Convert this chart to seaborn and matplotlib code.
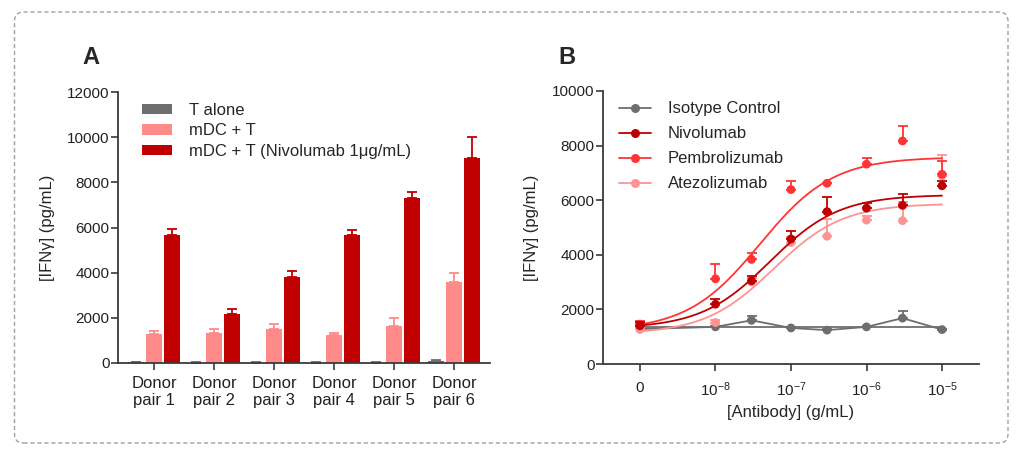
import numpy as np
import pandas as pd
import matplotlib
matplotlib.use("Agg")
import matplotlib.pyplot as plt
from matplotlib.patches import FancyBboxPatch, Patch
from matplotlib.lines import Line2D
import seaborn as sns

# ---------------- Data ----------------
donors = ["Donor\npair 1", "Donor\npair 2", "Donor\npair 3", "Donor\npair 4", "Donor\npair 5", "Donor\npair 6"]
conditions = ["T alone", "mDC + T", "mDC + T (Nivolumab 1μg/mL)"]
t_alone_mean = [40, 20, 20, 20, 20, 100]
t_alone_err = [10, 5, 5, 5, 5, 30]
mdc_mean = [1280, 1320, 1490, 1220, 1640, 3600]
mdc_err = [150, 180, 250, 100, 370, 370]
nivo_bar_mean = [5690, 2170, 3800, 5690, 7290, 9060]
nivo_bar_err = [235, 230, 280, 220, 265, 960]

conc = [0, 1e-8, 3e-8, 1e-7, 3e-7, 1e-6, 3e-6, 1e-5]
series_b = ["Isotype Control", "Nivolumab", "Pembrolizumab", "Atezolizumab"]
iso_mean = [1280, 1360, 1600, 1320, 1240, 1360, 1680, 1260]
iso_err = [60, 40, 160, 40, 30, 40, 270, 30]
nivo_mean = [1400, 2190, 3050, 4580, 5580, 5710, 5810, 6530]
nivo_err = [150, 200, 190, 310, 530, 200, 400, 160]
pembro_mean = [1460, 3120, 3830, 6390, 6620, 7320, 8170, 6950]
pembro_err = [120, 550, 240, 330, 0, 240, 560, 500]
atezo_mean = [1280, 1520, 3000, 4450, 4680, 5270, 5250, 6900]
atezo_err = [60, 80, 150, 200, 630, 150, 700, 740]

# fitted 4-parameter logistic parameters: bottom, top, logEC50, hill
fit_iso = (1360, 1360, -7.0, 1.0)
fit_nivo = (1300, 6200, -7.28, 0.95)
fit_pembro = (1220, 7580, -7.41, 0.9)
fit_atezo = (1100, 5880, -7.23, 0.95)

# ---------------- Style ----------------
sns.set_style("ticks")
plt.rcParams["font.family"] = ["Liberation Sans", "DejaVu Sans"]
plt.rcParams["mathtext.default"] = "regular"
plt.rcParams["axes.edgecolor"] = "#3a3a3a"
plt.rcParams["xtick.color"] = "#3a3a3a"
plt.rcParams["ytick.color"] = "#3a3a3a"
plt.rcParams["xtick.labelcolor"] = "#222222"
plt.rcParams["ytick.labelcolor"] = "#222222"

W, H = 1024, 457
fig = plt.figure(figsize=(W / 100, H / 100), dpi=100)

c_gray = "#6e6e6e"
c_pink = "#ff8a8a"
c_dark = "#c00000"
c_pembro = "#ff3535"
c_atezo = "#ff9393"

# ---------------- Panel A ----------------
axA = fig.add_axes([118 / W, 1 - 363 / H, 372 / W, 271 / H])
dfA = pd.DataFrame({
    "donor": donors * 3,
    "condition": [conditions[0]] * 6 + [conditions[1]] * 6 + [conditions[2]] * 6,
    "value": t_alone_mean + mdc_mean + nivo_bar_mean,
})
sns.barplot(data=dfA, x="donor", y="value", hue="condition", order=donors,
            hue_order=conditions, palette=[c_gray, c_pink, c_dark],
            width=0.9, gap=0.1, errorbar=None, saturation=1, ax=axA,
            linewidth=0)
errsA = [t_alone_err, mdc_err, nivo_bar_err]
colsA = [c_gray, c_pink, c_dark]
for cont, err, col in zip(axA.containers, errsA, colsA):
    xs = [b.get_x() + b.get_width() / 2 for b in cont]
    hs = [b.get_height() for b in cont]
    axA.errorbar(xs, hs, yerr=[np.zeros(len(err)), err], fmt="none",
                 ecolor=col, elinewidth=1.3, capsize=3.5, capthick=1.3, zorder=1)
axA.set_xlim(-0.6, 5.6)
axA.set_ylim(0, 12000)
axA.set_yticks(np.arange(0, 12001, 2000))
axA.set_xlabel("")
axA.set_ylabel("[IFNγ] (pg/mL)", fontsize=12)
axA.yaxis.set_label_coords(-0.169, 0.5)
axA.tick_params(axis="y", labelsize=11, length=5, width=1.2, pad=1)
axA.tick_params(axis="x", labelsize=12, length=5, width=1.2, pad=4)
for lab in axA.get_xticklabels():
    lab.set_linespacing(1.2)
for s in ["left", "bottom"]:
    axA.spines[s].set_linewidth(1.3)
sns.despine(ax=axA)
handlesA = [Patch(facecolor=c, edgecolor="none") for c in colsA]
axA.legend(handlesA, conditions, loc="upper left", bbox_to_anchor=(0.065, 0.96),
           frameon=False, fontsize=12, handlelength=1.8, handleheight=0.6,
           handletextpad=1.0, labelspacing=0.33, borderpad=0, borderaxespad=0)

# ---------------- Panel B ----------------
axB = fig.add_axes([603 / W, 1 - 364 / H, 376 / W, 273 / H])
xplot = [c if c > 0 else 1e-9 for c in conc]
axB.set_xscale("log")

def logistic(p, x):
    b, t, le, h = p
    return b + (t - b) / (1 + 10 ** (h * (le - np.log10(x))))

xfit = np.logspace(-9, -5, 200)
fits = [fit_iso, fit_nivo, fit_pembro, fit_atezo]
means = [iso_mean, nivo_mean, pembro_mean, atezo_mean]
errs = [iso_err, nivo_err, pembro_err, atezo_err]
colsB = [c_gray, c_dark, c_pembro, c_atezo]
draw_order = [0, 3, 2, 1]
for k, i in enumerate(draw_order):
    col = colsB[i]
    z = 2 + 2 * k
    dfit = pd.DataFrame({"x": xfit, "y": logistic(fits[i], xfit)})
    sns.lineplot(data=dfit, x="x", y="y", color=col, lw=1.3, ax=axB, zorder=z)
    axB.errorbar(xplot, means[i], yerr=[np.zeros(len(errs[i])), errs[i]], fmt="none",
                 ecolor=col, elinewidth=1.3, capsize=3.5, capthick=1.3, zorder=z)
    dpts = pd.DataFrame({"x": xplot, "y": means[i]})
    if i == 0:
        sns.lineplot(data=dpts, x="x", y="y", color=col, lw=1.3, ax=axB, zorder=z)
    sns.scatterplot(data=dpts, x="x", y="y", color=col, s=40, edgecolor="none",
                    ax=axB, zorder=z + 1)

axB.set_xlim(10 ** -9.49, 10 ** -4.51)
axB.set_ylim(0, 10000)
axB.set_yticks(np.arange(0, 10001, 2000))
axB.set_xticks([1e-9, 1e-8, 1e-7, 1e-6, 1e-5])
axB.set_xticklabels(["0", r"10$^{-8}$", r"10$^{-7}$", r"10$^{-6}$", r"10$^{-5}$"])
axB.xaxis.set_minor_locator(matplotlib.ticker.NullLocator())
axB.set_xlabel("[Antibody] (g/mL)", fontsize=12)
axB.xaxis.set_label_coords(0.5, -0.15)
axB.set_ylabel("[IFNγ] (pg/mL)", fontsize=12)
axB.yaxis.set_label_coords(-0.17, 0.5)
axB.tick_params(axis="y", labelsize=11, length=5, width=1.2, pad=1)
axB.tick_params(axis="x", labelsize=11, length=5, width=1.2, pad=7)
for s in ["left", "bottom"]:
    axB.spines[s].set_linewidth(1.3)
sns.despine(ax=axB)
handlesB = [Line2D([0], [0], color=c, lw=1.3, marker="o", markersize=6.5,
                   markeredgecolor="none") for c in colsB]
axB.legend(handlesB, series_b, loc="upper left", bbox_to_anchor=(0.043, 0.962),
           frameon=False, fontsize=12, handlelength=1.9, handletextpad=1.0,
           labelspacing=0.6, borderpad=0, borderaxespad=0)

# ---------------- Panel letters & frame ----------------
fig.text(91 / W, 1 - 57 / H, "A", fontsize=17, fontweight="bold", ha="center", va="center")
fig.text(567 / W, 1 - 57 / H, "B", fontsize=17, fontweight="bold", ha="center", va="center")
frame = FancyBboxPatch((0.145, 0.14), 9.935, 4.31,
                       boxstyle="round,pad=0,rounding_size=0.09",
                       transform=fig.dpi_scale_trans, fill=False,
                       edgecolor="#a0a0a0", linewidth=1.0, linestyle=(0, (3, 2)))
fig.add_artist(frame)

fig.savefig("out.png", dpi=100)
